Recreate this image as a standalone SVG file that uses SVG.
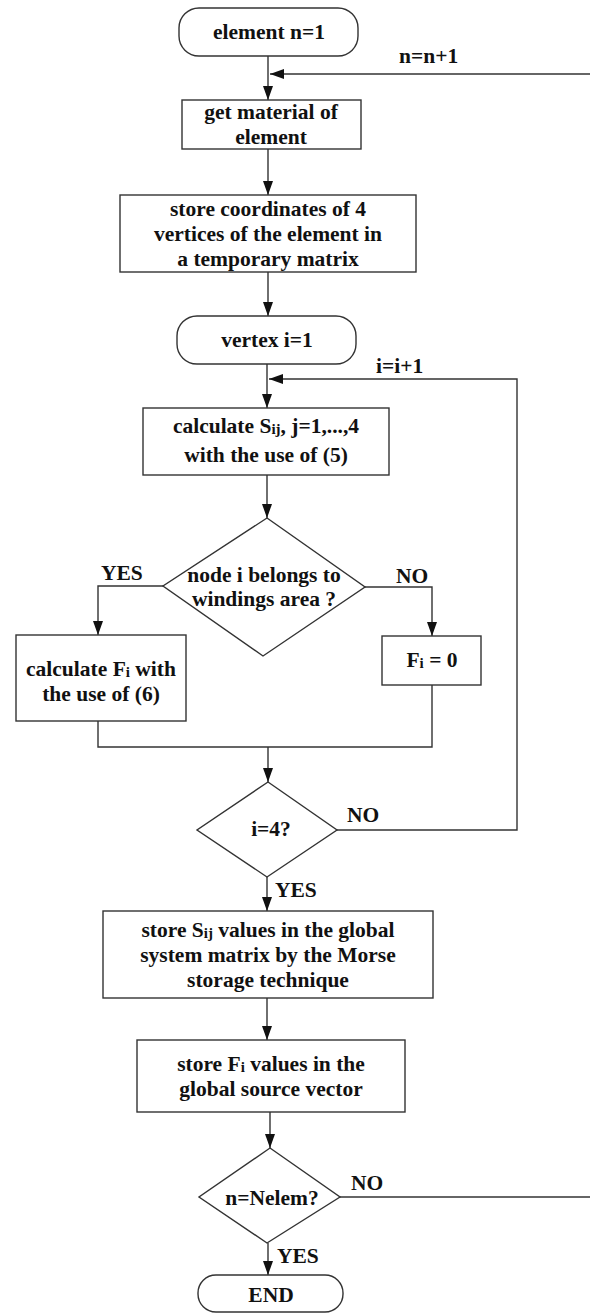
<svg xmlns="http://www.w3.org/2000/svg" width="590" height="1314" viewBox="0 0 590 1314">
<defs>
<marker id="ah" viewBox="0 0 14 10" refX="14" refY="5" markerWidth="14" markerHeight="10" markerUnits="userSpaceOnUse" orient="auto">
<path d="M0,0 L14,5 L0,10 Z" fill="#111"/>
</marker>
</defs>
<style>
.shape{fill:#fff;stroke:#333;stroke-width:1.4}
.conn{fill:none;stroke:#333;stroke-width:1.4}
.arr{marker-end:url(#ah)}
text{font-family:"Liberation Serif","Times New Roman",serif;font-weight:bold;font-size:21.5px;fill:#111}
.c{text-anchor:middle}
.sub{font-size:15px}
</style>
<rect width="590" height="1314" fill="#fff"/>
<g id="connectors">
<line class="conn arr" x1="268" y1="56" x2="268" y2="100"/>
<line class="conn arr" x1="590" y1="74" x2="270" y2="74"/>
<line class="conn arr" x1="268" y1="149" x2="268" y2="195"/>
<line class="conn arr" x1="268" y1="272" x2="268" y2="316"/>
<line class="conn arr" x1="267" y1="364" x2="267" y2="408"/>
<line class="conn arr" x1="267" y1="475" x2="267" y2="518"/>
<polyline class="conn arr" points="163,586 98,586 98,635"/>
<polyline class="conn arr" points="365,587 432,587 432,636"/>
<polyline class="conn" points="98,721 98,747 432,747 432,685"/>
<line class="conn arr" x1="268" y1="747" x2="268" y2="782"/>
<polyline class="conn arr" points="337,830 517,830 517,379 269,379"/>
<line class="conn arr" x1="267" y1="877" x2="267" y2="911"/>
<line class="conn arr" x1="267" y1="998" x2="267" y2="1040"/>
<line class="conn arr" x1="270" y1="1112" x2="270" y2="1148"/>
<line class="conn" x1="340" y1="1197" x2="590" y2="1197"/>
<line class="conn arr" x1="268" y1="1243" x2="268" y2="1275"/>
<text x="399" y="63">n=n+1</text>
<text x="376" y="373">i=i+1</text>
<text x="101" y="580">YES</text>
<text x="396" y="583">NO</text>
<text x="347" y="822">NO</text>
<text x="275" y="897">YES</text>
<text x="351" y="1190">NO</text>
<text x="277" y="1263">YES</text>
</g>
<g id="start">
<rect class="shape" x="179" y="8" width="179" height="48" rx="20"/>
<text class="c" x="269" y="39">element n=1</text>
</g>
<g id="get-material">
<rect class="shape" x="182" y="100" width="179" height="49"/>
<text class="c" x="271" y="119">get material of</text>
<text class="c" x="271" y="144">element</text>
</g>
<g id="store-coords">
<rect class="shape" x="120" y="195" width="296" height="77"/>
<text class="c" x="268" y="216">store coordinates of 4</text>
<text class="c" x="268" y="241">vertices of the element in</text>
<text class="c" x="268" y="266">a temporary matrix</text>
</g>
<g id="vertex">
<rect class="shape" x="177" y="316" width="179" height="48" rx="20"/>
<text class="c" x="267" y="347">vertex i=1</text>
</g>
<g id="calc-s">
<rect class="shape" x="143" y="408" width="246" height="67"/>
<text class="c" x="266" y="433">calculate S<tspan class="sub" dy="1">ij</tspan><tspan dy="-1">, j=1,...,4</tspan></text>
<text class="c" x="266" y="462">with the use of (5)</text>
</g>
<g id="decision-node">
<polygon class="shape" points="267,518 365,587 263,656 163,586"/>
<text class="c" x="264" y="582">node i belongs to</text>
<text class="c" x="264" y="606">windings area ?</text>
</g>
<g id="calc-f">
<rect class="shape" x="16" y="635" width="170" height="86"/>
<text class="c" x="101" y="676">calculate F<tspan class="sub" dy="1">i</tspan><tspan dy="-1"> with</tspan></text>
<text class="c" x="101" y="701">the use of (6)</text>
</g>
<g id="f-zero">
<rect class="shape" x="382" y="636" width="99" height="49"/>
<text class="c" x="432" y="667">F<tspan class="sub" dy="1">i</tspan><tspan dy="-1"> = 0</tspan></text>
</g>
<g id="decision-i4">
<polygon class="shape" points="268,782 337,830 267,877 197,830"/>
<text class="c" x="271" y="836">i=4?</text>
</g>
<g id="store-s">
<rect class="shape" x="103" y="911" width="330" height="87"/>
<text class="c" x="268" y="937">store S<tspan class="sub" dy="1">ij</tspan><tspan dy="-1"> values in the global</tspan></text>
<text class="c" x="268" y="962">system matrix by the Morse</text>
<text class="c" x="268" y="987">storage technique</text>
</g>
<g id="store-f">
<rect class="shape" x="137" y="1040" width="268" height="72"/>
<text class="c" x="271" y="1071">store F<tspan class="sub" dy="1">i</tspan><tspan dy="-1"> values in the</tspan></text>
<text class="c" x="271" y="1096">global source vector</text>
</g>
<g id="decision-n">
<polygon class="shape" points="270,1148 340,1197 267,1243 199,1197"/>
<text class="c" x="272" y="1205">n=Nelem?</text>
</g>
<g id="end">
<rect class="shape" x="198" y="1275" width="145" height="37" rx="18"/>
<text class="c" x="271" y="1302">END</text>
</g>
</svg>
